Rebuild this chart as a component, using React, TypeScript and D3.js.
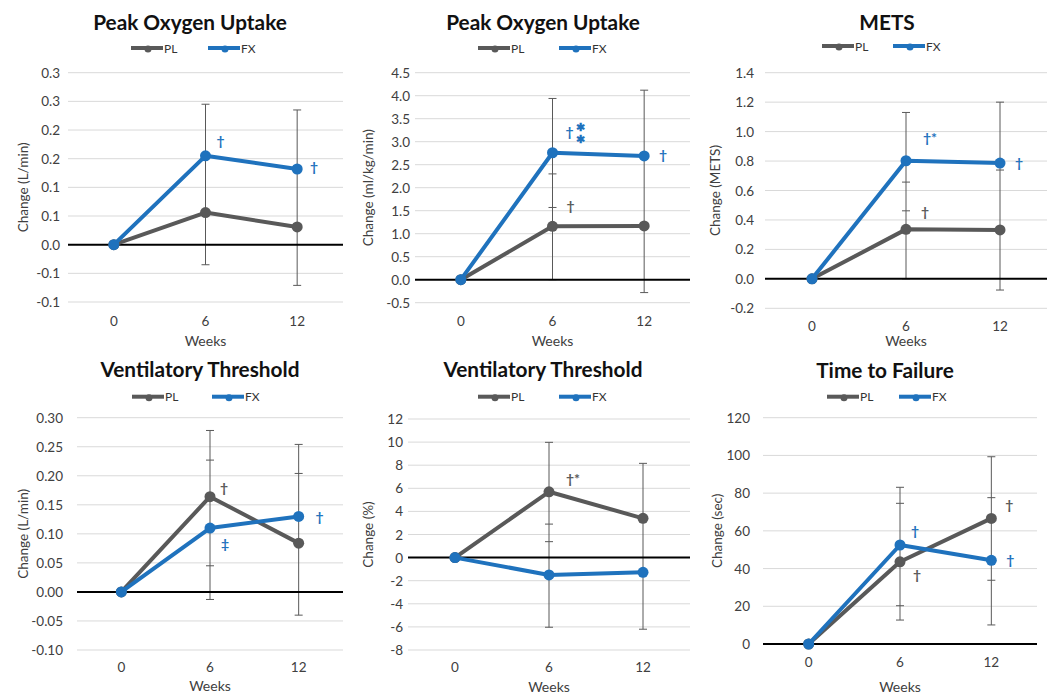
import React from "react";
import * as d3 from "d3";

// shared categories and colors
const weeks = ["0", "6", "12"];
const PL_COLOR = "#595959";
const FX_COLOR = "#1f72bd";
const FONT = "Lato, 'Open Sans', sans-serif";

// ---- panel 1: Peak Oxygen Uptake (L/min)
const p1PL = [0, 0.056, 0.031];
const p1FX = [0, 0.155, 0.132];
const p1Ticks = [0.3, 0.25, 0.2, 0.15, 0.1, 0.05, 0, -0.05, -0.1];
const p1TickLabels = ["0.3", "0.3", "0.2", "0.2", "0.1", "0.1", "0.0", "-0.1", "-0.1"];
const p1ErrLo = [null, -0.035, -0.071];
const p1ErrHi = [null, 0.245, 0.235];
const p1ErrMid = [[], [], []];
const p1Notes = [
  { s: "FX", w: 1, v: 0.18, dx: 15, t: "†" },
  { s: "FX", w: 2, v: 0.135, dx: 17, t: "†" },
];

// ---- panel 2: Peak Oxygen Uptake (ml/kg/min)
const p2PL = [0, 1.16, 1.17];
const p2FX = [0, 2.76, 2.69];
const p2Ticks = [4.5, 4, 3.5, 3, 2.5, 2, 1.5, 1, 0.5, 0, -0.5];
const p2TickLabels = p2Ticks.map((d) => d.toFixed(1));
const p2ErrLo = [null, 0, -0.28];
const p2ErrHi = [null, 3.94, 4.12];
const p2ErrMid = [[], [2.3, 1.57], []];
const p2Notes = [
  { s: "FX", w: 1, v: 3.2, dx: 17, t: "†" },
  { s: "FX", w: 1, v: 3.32, dx: 28, t: "✱", small: true },
  { s: "FX", w: 1, v: 3.05, dx: 28, t: "✱", small: true },
  { s: "FX", w: 2, v: 2.7, dx: 19, t: "†" },
  { s: "PL", w: 1, v: 1.59, dx: 18, t: "†" },
];

// ---- panel 3: METS
const p3PL = [0, 0.336, 0.332];
const p3FX = [0, 0.802, 0.786];
const p3Ticks = [1.4, 1.2, 1.0, 0.8, 0.6, 0.4, 0.2, 0, -0.2];
const p3TickLabels = p3Ticks.map((d) => d.toFixed(1));
const p3ErrLo = [null, 0, -0.076];
const p3ErrHi = [null, 1.13, 1.2];
const p3ErrMid = [[], [0.657, 0.462], [0.739]];
const p3Notes = [
  { s: "FX", w: 1, v: 0.954, dx: 24, t: "†*" },
  { s: "FX", w: 2, v: 0.784, dx: 19, t: "†" },
  { s: "PL", w: 1, v: 0.456, dx: 19, t: "†" },
];

// ---- panel 4: Ventilatory Threshold (L/min)
const p4PL = [0, 0.164, 0.084];
const p4FX = [0, 0.11, 0.13];
const p4Ticks = [0.3, 0.25, 0.2, 0.15, 0.1, 0.05, 0, -0.05, -0.1];
const p4TickLabels = p4Ticks.map((d) => d.toFixed(2));
const p4ErrLo = [null, -0.013, -0.04];
const p4ErrHi = [null, 0.278, 0.254];
const p4ErrMid = [[], [0.227, 0.045], [0.204]];
const p4Notes = [
  { s: "PL", w: 1, v: 0.178, dx: 14, t: "†" },
  { s: "FX", w: 1, v: 0.082, dx: 15, t: "‡" },
  { s: "FX", w: 2, v: 0.128, dx: 21, t: "†" },
];

// ---- panel 5: Ventilatory Threshold (%)
const p5PL = [0, 5.7, 3.4];
const p5FX = [0, -1.5, -1.27];
const p5Ticks = [12, 10, 8, 6, 4, 2, 0, -2, -4, -6, -8];
const p5TickLabels = p5Ticks.map((d) => String(d));
const p5ErrLo = [null, -6.03, -6.2];
const p5ErrHi = [null, 9.98, 8.16];
const p5ErrMid = [[], [2.9, 1.38], []];
const p5Notes = [{ s: "PL", w: 1, v: 6.8, dx: 24, t: "†*" }];

// ---- panel 6: Time to Failure (sec)
const p6PL = [0, 43.6, 66.6];
const p6FX = [0, 52.5, 44.4];
const p6Ticks = [120, 100, 80, 60, 40, 20, 0];
const p6TickLabels = p6Ticks.map((d) => String(d));
const p6ErrLo = [null, 12.7, 10.1];
const p6ErrHi = [null, 83.1, 99.3];
const p6ErrMid = [[], [74.6, 20.3], [77.6, 33.8]];
const p6Notes = [
  { s: "FX", w: 1, v: 59.9, dx: 15, t: "†" },
  { s: "PL", w: 1, v: 36.6, dx: 17, t: "†" },
  { s: "PL", w: 2, v: 73.7, dx: 18, t: "†" },
  { s: "FX", w: 2, v: 44.5, dx: 19, t: "†" },
];

const panels = [
  { title: "Peak Oxygen Uptake", ylab: "Change (L/min)", pl: p1PL, fx: p1FX, ticks: p1Ticks, tickLabels: p1TickLabels, errLo: p1ErrLo, errHi: p1ErrHi, errMid: p1ErrMid, notes: p1Notes },
  { title: "Peak Oxygen Uptake", ylab: "Change (ml/kg/min)", pl: p2PL, fx: p2FX, ticks: p2Ticks, tickLabels: p2TickLabels, errLo: p2ErrLo, errHi: p2ErrHi, errMid: p2ErrMid, notes: p2Notes },
  { title: "METS", ylab: "Change (METS)", pl: p3PL, fx: p3FX, ticks: p3Ticks, tickLabels: p3TickLabels, errLo: p3ErrLo, errHi: p3ErrHi, errMid: p3ErrMid, notes: p3Notes },
  { title: "Ventilatory Threshold", ylab: "Change (L/min)", pl: p4PL, fx: p4FX, ticks: p4Ticks, tickLabels: p4TickLabels, errLo: p4ErrLo, errHi: p4ErrHi, errMid: p4ErrMid, notes: p4Notes },
  { title: "Ventilatory Threshold", ylab: "Change  (%)", pl: p5PL, fx: p5FX, ticks: p5Ticks, tickLabels: p5TickLabels, errLo: p5ErrLo, errHi: p5ErrHi, errMid: p5ErrMid, notes: p5Notes },
  { title: "Time to Failure", ylab: "Change (sec)", pl: p6PL, fx: p6FX, ticks: p6Ticks, tickLabels: p6TickLabels, errLo: p6ErrLo, errHi: p6ErrHi, errMid: p6ErrMid, notes: p6Notes },
];

// layout of each panel in page pixels
const layouts = [
  { x0: 68, x1: 343, y0: 72.7, y1: 302, cx: 190, titleY: 30, legY: 48, legA: 131, legB: 208, labX: 23, gap: 8, tickY: 326, weeksY: 346 },
  { x0: 415, x1: 690, y0: 72.7, y1: 302.7, cx: 543, titleY: 30, legY: 48, legA: 478, legB: 559, labX: 368, gap: 5, tickY: 326, weeksY: 346 },
  { x0: 765, x1: 1047, y0: 72.7, y1: 308.3, cx: 887, titleY: 30, legY: 46, legA: 822, legB: 893, labX: 715, gap: 11, tickY: 331, weeksY: 346 },
  { x0: 77, x1: 343, y0: 417.7, y1: 650, cx: 200, titleY: 377, legY: 396.7, legA: 132, legB: 212, labX: 23, gap: 14, tickY: 672, weeksY: 691 },
  { x0: 408, x1: 690, y0: 419, y1: 650, cx: 543, titleY: 377, legY: 396.7, legA: 478, legB: 559, labX: 368, gap: 5, tickY: 672, weeksY: 692 },
  { x0: 763, x1: 1037, y0: 417.7, y1: 644, cx: 885, titleY: 378, legY: 396.7, legA: 827, legB: 899, labX: 717, gap: 13, tickY: 667, weeksY: 692 },
];

function Legend({ x, y, color, label }) {
  return (
    <g>
      <line x1={x} x2={x + 32} y1={y} y2={y} stroke={color} strokeWidth={4} />
      <circle cx={x + 17} cy={y + 1} r={3.5} fill={color} />
      <text x={x + 33} y={y + 4.5} fontSize={12} fill="#333" fontFamily={FONT}>{label}</text>
    </g>
  );
}

function Panel({ p, l }) {
  const x = d3.scalePoint().domain(weeks).range([l.x0, l.x1]).padding(0.5);
  const y = d3.scaleLinear().domain([d3.min(p.ticks), d3.max(p.ticks)]).range([l.y1, l.y0]);
  const line = d3.line().x((d, i) => x(weeks[i])).y((d) => y(d));
  const midY = (l.y0 + l.y1) / 2;
  const series = [
    { key: "PL", vals: p.pl, color: PL_COLOR },
    { key: "FX", vals: p.fx, color: FX_COLOR },
  ];
  return (
    <g>
      <text x={l.cx} y={l.titleY} textAnchor="middle" fontSize={20.8} fontWeight="bold" fill="#111" fontFamily={FONT}>{p.title}</text>
      <Legend x={l.legA} y={l.legY} color={PL_COLOR} label="PL" />
      <Legend x={l.legB} y={l.legY} color={FX_COLOR} label="FX" />
      {p.ticks.map((t, i) => (
        <g key={i}>
          {t !== 0 && <line x1={l.x0} x2={l.x1} y1={y(t)} y2={y(t)} stroke="#d9d9d9" strokeWidth={1} />}
          <text x={l.x0 - l.gap} y={y(t) + 5} textAnchor="end" fontSize={13.5} fill="#404040" fontFamily={FONT}>{p.tickLabels[i]}</text>
        </g>
      ))}
      <text transform={`translate(${l.labX},${midY}) rotate(-90)`} textAnchor="middle" dy="0.35em" fontSize={13.5} fill="#404040" fontFamily={FONT}>{p.ylab}</text>
      {weeks.map((w) => (
        <text key={w} x={x(w)} y={l.tickY} textAnchor="middle" fontSize={13.5} fill="#404040" fontFamily={FONT}>{w}</text>
      ))}
      <text x={(l.x0 + l.x1) / 2} y={l.weeksY} textAnchor="middle" fontSize={14} fill="#404040" fontFamily={FONT}>Weeks</text>
      {/* error bars */}
      {weeks.map((w, i) =>
        p.errLo[i] === null ? null : (
          <g key={"e" + w} stroke="#595959" strokeWidth={1}>
            <line x1={x(w)} x2={x(w)} y1={y(p.errLo[i])} y2={y(p.errHi[i])} />
            {[p.errLo[i], p.errHi[i], ...p.errMid[i]].map((v, j) => (
              <line key={j} x1={x(w) - 4} x2={x(w) + 4} y1={y(v)} y2={y(v)} />
            ))}
          </g>
        )
      )}
      <line x1={l.x0} x2={l.x1} y1={y(0)} y2={y(0)} stroke="#000" strokeWidth={2} />
      {series.map((s) => (
        <g key={s.key}>
          <path d={line(s.vals)} fill="none" stroke={s.color} strokeWidth={4} strokeLinejoin="round" />
          {s.vals.map((v, i) => (
            <circle key={i} cx={x(weeks[i])} cy={y(v)} r={5.5} fill={s.color} />
          ))}
        </g>
      ))}
      {p.notes.map((n, i) => (
        <text key={"n" + i} x={x(weeks[n.w]) + n.dx} y={y(n.v)} dy="0.35em" textAnchor="middle"
          fontSize={n.small ? 11 : 14} fontWeight="bold" fill={n.s === "PL" ? PL_COLOR : FX_COLOR} fontFamily={FONT}>{n.t}</text>
      ))}
    </g>
  );
}

export default function App() {
  return (
    <svg width={1053} height={695} style={{ position: "absolute", left: 0, top: 0, background: "#fff" }}>
      <rect width={1053} height={695} fill="#fff" />
      {panels.map((p, i) => (
        <Panel key={i} p={p} l={layouts[i]} />
      ))}
    </svg>
  );
}
